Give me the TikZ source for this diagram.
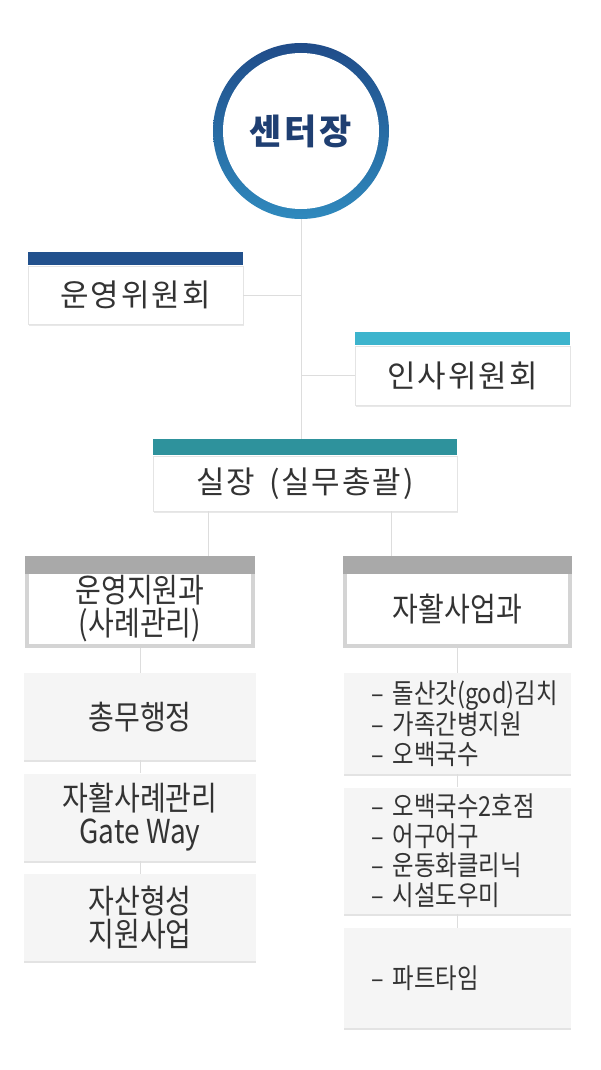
\documentclass[tikz,border=0pt]{standalone}
\usepackage{fontspec}
\setmainfont{Noto Sans CJK KR}
\newfontfamily\kwide[LetterSpace=6]{Noto Sans CJK KR}
\newfontfamily\ktitle[LetterSpace=8]{Noto Sans CJK KR}
\newfontfamily\knarrow[FakeStretch=0.85]{Noto Sans CJK KR}
\usepackage{tikz}
\usetikzlibrary{positioning,shadows}

\definecolor{ringtop}{HTML}{204C89}
\definecolor{ringbot}{HTML}{2F89BD}
\definecolor{titlecol}{HTML}{1F3F72}
\definecolor{opblue}{HTML}{22518D}
\definecolor{hrcyan}{HTML}{3DB4CD}
\definecolor{chiefteal}{HTML}{2E929C}
\definecolor{deptgrey}{HTML}{A9A9A9}
\definecolor{deptline}{HTML}{D4D4D4}
\definecolor{cellgrey}{HTML}{F5F5F5}
\definecolor{linkgrey}{HTML}{DDDDDD}
\definecolor{edgegrey}{HTML}{E4E4E4}
\definecolor{textcol}{HTML}{333333}

\tikzset{
  link/.style={draw=linkgrey, line width=1pt},
  ctrcircle/.style={circle, inner sep=0pt, minimum size=176pt, text=titlecol,
    font=\ktitle\bfseries\fontsize{35}{38}\selectfont,
    path picture={
      \shade[top color=ringtop, bottom color=ringbot] (path picture bounding box.south west) rectangle (path picture bounding box.north east);
      \fill[white] (path picture bounding box.center) circle (78pt);
    }},
  headbox/.style={fill=white, draw=edgegrey, line width=0.8pt, inner sep=0pt,
    minimum height=58pt, text=textcol, font=\kwide\fontsize{31}{34}\selectfont,
    drop shadow={shadow xshift=1pt, shadow yshift=-2pt, opacity=0.18}},
  headbar/.style={fill=#1, inner sep=0pt, minimum height=13pt},
  deptbox/.style={fill=white, draw=deptline, line width=4pt, inner sep=0pt,
    minimum height=74pt, align=center, text=textcol,
    font=\knarrow\fontsize{33}{33}\selectfont},
  deptbar/.style={fill=deptgrey, inner sep=0pt, minimum height=18pt},
  cell/.style={fill=cellgrey, inner sep=0pt, minimum width=232pt, minimum height=87pt,
    align=center, text=textcol, font=\knarrow\fontsize{33}{33}\selectfont,
    drop shadow={shadow xshift=0pt, shadow yshift=-2pt, opacity=0.22}},
  listcell/.style={fill=cellgrey, inner xsep=27pt, inner ysep=0pt, text width=173pt,
    align=left, text=textcol, font=\knarrow\fontsize{27.5}{29.5}\selectfont,
    drop shadow={shadow xshift=0pt, shadow yshift=-2pt, opacity=0.22}},
}

\begin{document}
\begin{tikzpicture}[x=1pt, y=-1pt]
\fill[white] (0,0) rectangle (600,1070);
\useasboundingbox (0,0) rectangle (600,1070);

% Top
\node[ctrcircle] (ctr) at (301,131) {센터장};

% Committees
\node[headbox, minimum width=215pt] (opcom) at (135.5,295) {운영위원회};
\node[headbar=opblue, minimum width=215pt, above=0pt of opcom] (opbar) {};
\node[headbox, minimum width=215pt, minimum height=59pt] (hrcom) at (462.5,375.5) {인사위원회};
\node[headbar=hrcyan, minimum width=215pt, above=0pt of hrcom] (hrbar) {};

% Chief
\node[headbox, minimum width=304pt, minimum height=55pt] (chief) at (305,483.5) {실장\hspace{14pt}(실무총괄)};
\node[headbar=chiefteal, minimum width=304pt, minimum height=16pt, above=0pt of chief] (chiefbar) {};

% Departments
\node[deptbox, minimum width=226pt] (dept1) at (140,609) {운영지원과\\(사례관리)};
\node[deptbar, minimum width=230pt, above=-4pt of dept1] (d1bar) {};
\node[deptbox, minimum width=225pt] (dept2) at (457.5,609) {자활사업과};
\node[deptbar, minimum width=229pt, above=-4pt of dept2] (d2bar) {};

% Teams
\node[cell, below=25pt of dept1] (admin) {총무행정};
\node[cell, below=13pt of admin] (gate) {자활사례관리\\Gate Way};
\node[cell, below=13pt of gate] (asset) {자산형성\\지원사업};

\node[listcell, minimum height=101pt, below=25pt of dept2] (biz1) {\mbox{– 돌산갓(god)김치}\\\mbox{– 가족간병지원}\\\mbox{– 오백국수}};
\node[listcell, minimum height=126pt, below=13pt of biz1] (biz2) {\mbox{– 오백국수2호점}\\\mbox{– 어구어구}\\\mbox{– 운동화클리닉}\\\mbox{– 시설도우미}};
\node[listcell, minimum height=100pt, below=14pt of biz2] (biz3) {\mbox{– 파트타임}};

% Links
\draw[link] (ctr.south) -- (ctr.south |- chiefbar.north);
\draw[link] (opcom.east) -- (opcom.east -| ctr.south);
\draw[link] (hrcom.west) -- (hrcom.west -| ctr.south);
\draw[link] ([xshift=-97pt]chief.south) -- ([xshift=-97pt]chief.south |- d1bar.north);
\draw[link] ([xshift=86pt]chief.south) -- ([xshift=86pt]chief.south |- d2bar.north);
\draw[link] (dept1.south) -- (admin.north);
\draw[link] (admin.south) -- (gate.north);
\draw[link] (gate.south) -- (asset.north);
\draw[link] (dept2.south) -- (biz1.north);
\draw[link] (biz1.south) -- (biz2.north);
\draw[link] (biz2.south) -- (biz3.north);
\end{tikzpicture}
\end{document}
